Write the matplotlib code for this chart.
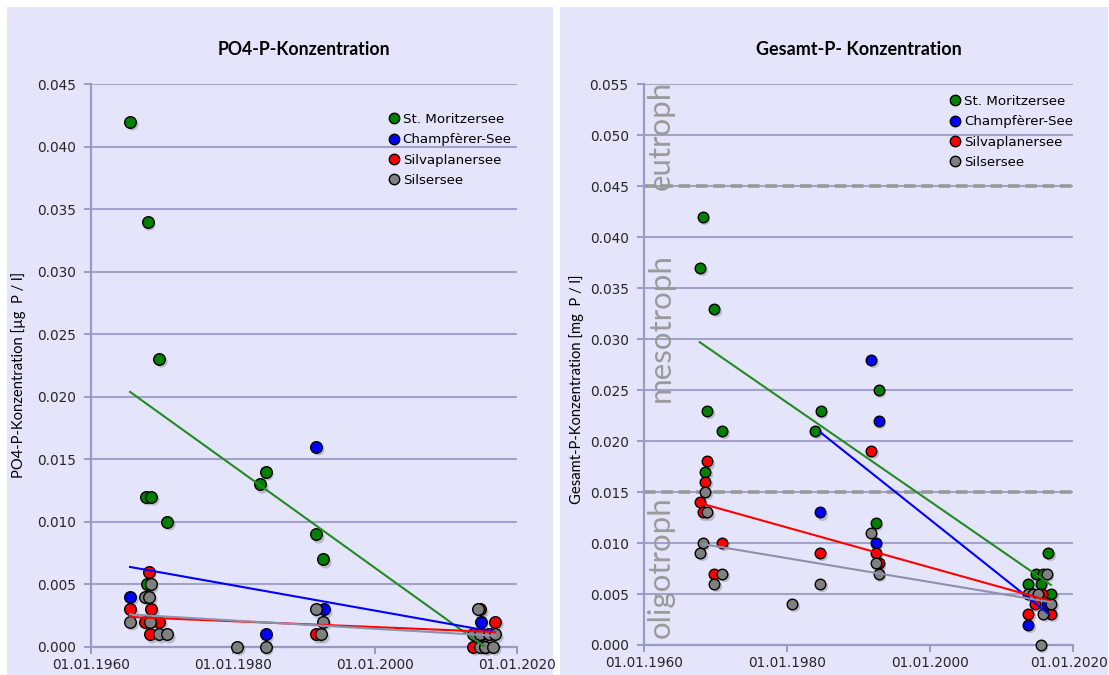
import matplotlib
matplotlib.use('Agg')
import matplotlib.pyplot as plt
import matplotlib.transforms as mtransforms
from matplotlib.patches import Rectangle
from matplotlib.lines import Line2D

# ---------------- data ----------------
series_names = ['St. Moritzersee', 'Champfèrer-See', 'Silvaplanersee', 'Silsersee']
x_ticks = [1960, 1980, 2000, 2020]
x_tick_labels = ['01.01.1960', '01.01.1980', '01.01.2000', '01.01.2020']

# PO4-P (left chart)
po4_moritz_x = [1965.5, 1968.0, 1969.6, 1967.7, 1968.5, 1970.7, 1967.9, 1983.8, 1984.6, 1991.7, 1992.7, 2014.0, 2015.5]
po4_moritz_y = [0.042, 0.034, 0.023, 0.012, 0.012, 0.010, 0.005, 0.013, 0.014, 0.009, 0.007, 0.001, 0.000]
po4_champ_x = [1965.5, 1984.6, 1991.7, 1992.8, 2014.9, 2016.0]
po4_champ_y = [0.004, 0.001, 0.016, 0.003, 0.002, 0.001]
po4_silva_x = [1965.5, 1968.1, 1968.5, 1967.6, 1969.6, 1968.3, 1991.7, 2014.8, 2016.9, 2015.0, 2013.8]
po4_silva_y = [0.003, 0.006, 0.003, 0.002, 0.002, 0.001, 0.001, 0.003, 0.002, 0.001, 0.000]
po4_sils_x = [1965.5, 1967.6, 1968.2, 1968.4, 1968.3, 1969.6, 1970.7, 1980.6, 1984.6, 1991.7, 1992.7, 1992.4,
              2014.5, 2013.8, 2014.8, 2016.0, 2016.9, 2014.8, 2015.5, 2016.6]
po4_sils_y = [0.002, 0.004, 0.004, 0.005, 0.002, 0.001, 0.001, 0.000, 0.000, 0.003, 0.002, 0.001,
              0.003, 0.001, 0.001, 0.001, 0.001, 0.000, 0.000, 0.000]
# trend lines (start / end)
po4_trend_moritz_x = [1965.5, 2015.5]
po4_trend_moritz_y = [0.0204, 0.0000]
po4_trend_champ_x = [1965.5, 2016.9]
po4_trend_champ_y = [0.0064, 0.0012]
po4_trend_silva_x = [1965.5, 2016.9]
po4_trend_silva_y = [0.0024, 0.0012]
po4_trend_sils_x = [1965.5, 2016.9]
po4_trend_sils_y = [0.0026, 0.0009]

# Gesamt-P (right chart)
tp_moritz_x = [1968.2, 1967.9, 1969.8, 1968.8, 1970.9, 1968.6, 1983.9, 1984.7, 1992.8, 1992.4,
               2016.5, 2014.8, 2015.8, 2013.75, 2015.5, 2016.9]
tp_moritz_y = [0.042, 0.037, 0.033, 0.023, 0.021, 0.017, 0.021, 0.023, 0.025, 0.012,
               0.009, 0.007, 0.007, 0.006, 0.006, 0.005]
tp_champ_x = [1984.6, 1991.8, 1992.8, 1992.4, 2013.75, 2014.4, 2016.3]
tp_champ_y = [0.013, 0.028, 0.022, 0.010, 0.002, 0.005, 0.004]
tp_silva_x = [1968.8, 1968.6, 1967.9, 1968.2, 1970.9, 1969.8, 1984.6, 1991.8, 1992.4, 1992.8,
              2013.75, 2014.7, 2015.6, 2016.9]
tp_silva_y = [0.018, 0.016, 0.014, 0.013, 0.010, 0.007, 0.009, 0.019, 0.009, 0.008,
              0.003, 0.004, 0.005, 0.003]
tp_sils_x = [1968.6, 1968.8, 1968.2, 1967.9, 1970.9, 1969.8, 1980.7, 1984.6, 1991.7, 1992.4, 1992.8,
             2013.75, 2014.4, 2015.1, 2016.3, 2016.9, 2015.8, 2015.5]
tp_sils_y = [0.015, 0.013, 0.010, 0.009, 0.007, 0.006, 0.004, 0.006, 0.011, 0.008, 0.007,
             0.005, 0.005, 0.005, 0.007, 0.004, 0.003, 0.000]
tp_trend_moritz_x = [1967.8, 2016.9]
tp_trend_moritz_y = [0.0297, 0.0059]
tp_trend_champ_x = [1984.6, 2016.5]
tp_trend_champ_y = [0.0209, 0.0031]
tp_trend_silva_x = [1967.9, 2016.9]
tp_trend_silva_y = [0.0139, 0.0043]
tp_trend_sils_x = [1968.2, 2016.9]
tp_trend_sils_y = [0.0099, 0.0042]

trophic_limits = [0.015, 0.045]
trophic_labels = ['oligotroph', 'mesotroph', 'eutroph']
trophic_label_y = [0.0076, 0.0311, 0.0500]

# ---------------- style ----------------
W, H = 1109, 675
marker_colors = ['#008000', '#0000FF', '#FF0000', '#808080']
trend_colors = ['#228B22', '#0000FF', '#FF0000', '#9090AE']
bg = '#E4E4FA'
grid_c = '#A2A2CC'
spine_c = '#9A9AC8'

fig = plt.figure(figsize=(W / 100, H / 100), dpi=100)
fig.patch.set_facecolor('white')
fig.add_artist(Rectangle((7 / W, 0), (553 - 7) / W, (H - 7) / H, transform=fig.transFigure,
                         facecolor=bg, edgecolor='none', zorder=-10))
fig.add_artist(Rectangle((560 / W, 0), (1108 - 560) / W, (H - 7) / H, transform=fig.transFigure,
                         facecolor=bg, edgecolor='none', zorder=-10))

axL = fig.add_axes([91 / W, 28 / H, 426 / W, 563 / H])
axR = fig.add_axes([644 / W, 30 / H, 429 / W, 561 / H])


def style_axes(ax, ymax, ystep):
    ax.set_facecolor('none')
    for s in ['top', 'right']:
        ax.spines[s].set_visible(False)
    for s in ['left', 'bottom']:
        ax.spines[s].set_color(spine_c)
        ax.spines[s].set_linewidth(1.6)
    ax.set_xlim(1960, 2020)
    ax.set_ylim(0, ymax * 1.0005)
    n = int(round(ymax / ystep))
    ax.set_yticks([i * ystep for i in range(n + 1)])
    ax.yaxis.set_major_formatter(matplotlib.ticker.FormatStrFormatter('%.3f'))
    ax.set_xticks(x_ticks)
    ax.set_xticklabels(x_tick_labels)
    ax.tick_params(axis='both', colors=spine_c, length=5, width=1.4, labelcolor='#262626',
                   labelsize=9.8, direction='out')
    ax.tick_params(axis='y', pad=6)
    ax.tick_params(axis='x', pad=3)
    ax.yaxis.grid(True, color=grid_c, linewidth=1.5)
    ax.set_axisbelow(True)


def draw_series(ax, xs, ys, txs, tys, size):
    shadow = mtransforms.offset_copy(ax.transData, fig=fig, x=1.2, y=-1.5, units='points')
    for i in range(4):
        ax.scatter(xs[i], ys[i], s=size * 1.1, c='#000000', alpha=0.18, linewidths=0,
                   zorder=2.9 + i * 0.1, transform=shadow, clip_on=False)
        ax.scatter(xs[i], ys[i], s=size, c=marker_colors[i], edgecolors='black',
                   linewidths=1.0, zorder=3 + i * 0.1, clip_on=False)
    for i in range(4):
        ax.plot(txs[i], tys[i], color=trend_colors[i], lw=1.5, zorder=5)


def add_legend(ax, anchor):
    handles = [Line2D([], [], linestyle='none', marker='o', markersize=7.5,
                      markerfacecolor=marker_colors[i], markeredgecolor='black',
                      markeredgewidth=1.0) for i in range(4)]
    ax.legend(handles, series_names, loc='upper left', bbox_to_anchor=anchor, frameon=False,
              handletextpad=0.05, labelspacing=0.55, fontsize=9.6, borderaxespad=0,
              handlelength=1.2)


style_axes(axL, 0.045, 0.005)
draw_series(axL,
            [po4_moritz_x, po4_champ_x, po4_silva_x, po4_sils_x],
            [po4_moritz_y, po4_champ_y, po4_silva_y, po4_sils_y],
            [po4_trend_moritz_x, po4_trend_champ_x, po4_trend_silva_x, po4_trend_sils_x],
            [po4_trend_moritz_y, po4_trend_champ_y, po4_trend_silva_y, po4_trend_sils_y], 70)
add_legend(axL, (0.68, 0.958))
axL.set_title('PO4-P-Konzentration', fontsize=12.7, fontweight='bold', family='Lato', pad=21)
axL.set_ylabel('PO4-P-Konzentration [µg  P / l]', fontsize=10.6, family='Lato')
axL.yaxis.set_label_coords(-0.152, 0.483)

style_axes(axR, 0.055, 0.005)
for lim in trophic_limits:
    axR.axhline(lim, color='#999999', lw=2.6, ls=(0, (3.2, 1.6)), zorder=2)
for lab, yv in zip(trophic_labels, trophic_label_y):
    axR.text(1962.3, yv, lab, rotation=90, ha='center', va='center', fontsize=22.5,
             family='Lato', color='#9A9A9A', zorder=1, clip_on=False)
draw_series(axR,
            [tp_moritz_x, tp_champ_x, tp_silva_x, tp_sils_x],
            [tp_moritz_y, tp_champ_y, tp_silva_y, tp_sils_y],
            [tp_trend_moritz_x, tp_trend_champ_x, tp_trend_silva_x, tp_trend_sils_x],
            [tp_trend_moritz_y, tp_trend_champ_y, tp_trend_silva_y, tp_trend_sils_y], 58)
add_legend(axR, (0.695, 0.99))
axR.set_title('Gesamt-P- Konzentration', fontsize=13, fontweight='bold', family='Lato', pad=21)
axR.set_ylabel('Gesamt-P-Konzentration [mg  P / l]', fontsize=10.6, family='Lato')
axR.yaxis.set_label_coords(-0.14, 0.456)

# keep the last right-hand date label inside the picture
last_lbl = axR.get_xticklabels()[-1]
last_lbl.set_transform(last_lbl.get_transform() +
                       mtransforms.ScaledTranslation(-4 / 100, 0, fig.dpi_scale_trans))

fig.savefig('out.png', dpi=100, facecolor='white')
